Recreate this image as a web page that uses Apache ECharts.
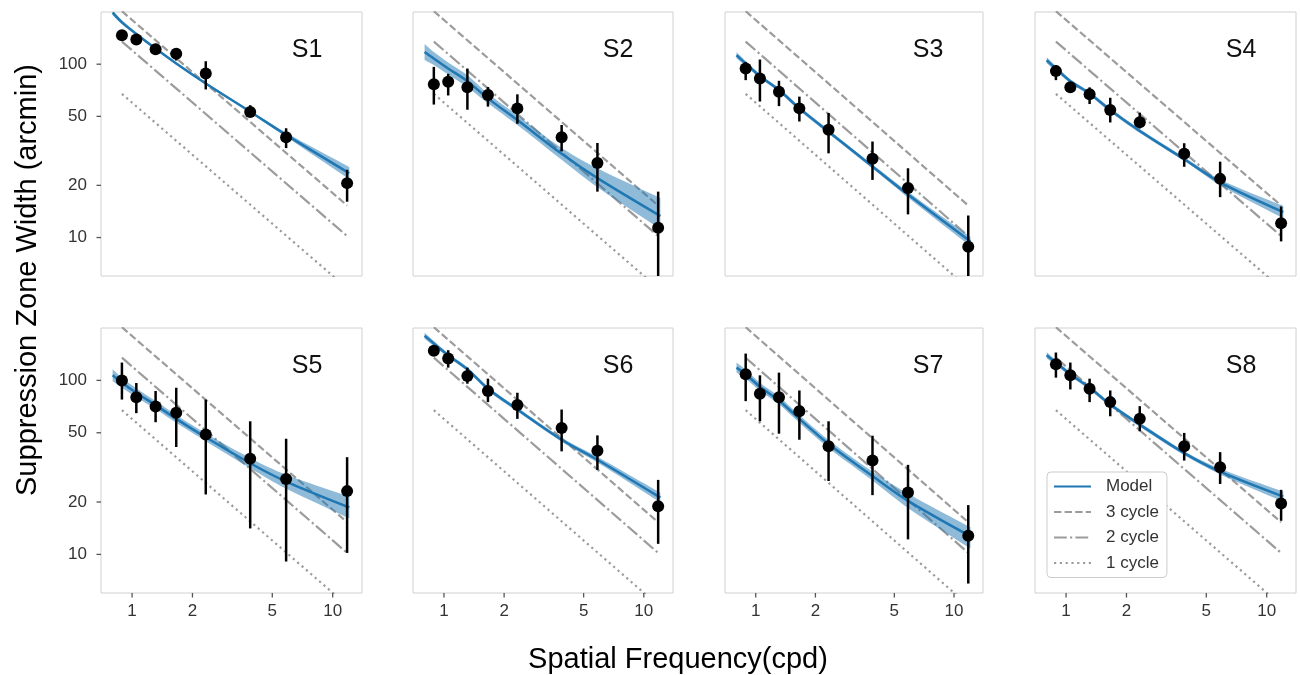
<!DOCTYPE html>
<html><head><meta charset="utf-8">
<script src="https://cdn.jsdelivr.net/npm/echarts@6/dist/echarts.min.js"></script>
<style>html,body{margin:0;padding:0;background:#fff}#c{width:1300px;height:675px}</style>
</head><body><div id="c"></div>
<script>
// ---------- data ----------
const panelNames = ['S1','S2','S3','S4','S5','S6','S7','S8'];
const freqs = [0.89, 1.05, 1.31, 1.66, 2.33, 3.88, 5.86, 11.8];
const meanValues = [
  [146.8, 138.7, 122.0, 115.0, 88.4, 53.0, 37.9, 20.6],
  [76.7, 79.1, 73.5, 66.4, 55.6, 37.9, 26.9, 11.4],
  [94.4, 82.7, 69.3, 55.6, 41.8, 28.5, 19.3, 8.84],
  [91.2, 73.5, 67.0, 54.4, 46.3, 30.4, 21.8, 12.1],
  [100.0, 80.1, 70.7, 65.1, 48.8, 35.4, 27.1, 23.1],
  [147.9, 133.5, 106.0, 86.9, 72.1, 53.3, 39.4, 18.9],
  [108.3, 83.8, 80.1, 66.5, 41.8, 34.6, 22.7, 12.8],
  [123.7, 106.9, 89.5, 75.0, 60.1, 41.8, 31.7, 19.6]
];
const errLow = [
  [138, 130, 113, 105, 71.5, 49.8, 32.8, 16.1],
  [58.5, 66, 54.6, 56.9, 45.3, 31.4, 18.4, 5],
  [80.9, 60.9, 57.3, 46.7, 30.6, 21.5, 13.6, 5],
  [80.9, 69.3, 58.9, 46.1, 42.6, 25.6, 17.1, 9.5],
  [77.6, 64.8, 57.5, 41.4, 22.1, 14.1, 9.1, 10.2],
  [138.3, 118.4, 95.7, 75.0, 60.1, 39.1, 30.6, 11.5],
  [76.0, 58.2, 49.4, 45.6, 26.4, 21.9, 12.2, 6.8],
  [103.7, 88.7, 75.0, 62.2, 51.0, 34.6, 25.4, 15.6]
];
const errHigh = [
  [157, 147, 131, 124, 104, 58, 42.7, 24.6],
  [96.5, 88, 94.4, 73.8, 67, 44.6, 35.1, 18.4],
  [103, 106.4, 80.2, 65, 52.3, 35.8, 25.1, 13.4],
  [98.7, 76.1, 73.5, 64, 52.5, 35, 27.4, 15.1],
  [126.6, 96.6, 86.9, 90.7, 77.6, 58.2, 46.2, 36.2],
  [158.1, 149.1, 118.4, 102.3, 84.9, 68.0, 48.3, 26.8],
  [142.6, 106.9, 110.8, 87.5, 58.2, 48.1, 32.7, 19.2],
  [144.6, 126.6, 102.3, 87.5, 71.1, 49.9, 38.7, 23.5]
];
const modelFreqs = [0.8, 0.89, 1.05, 1.31, 1.66, 2.33, 3.88, 5.86, 12.1];
const modelValues = [
  [198.2, 174.3, 149.4, 123.0, 100.9, 77.4, 53.2, 39.1, 23.5],
  [117.7, 107.8, 94.4, 79.8, 63.5, 47.6, 30.4, 22.0, 13.3],
  [112.6, 100.9, 85.3, 70.9, 55.6, 40.8, 25.7, 17.7, 9.5],
  [105.4, 94.4, 79.8, 67.8, 54.4, 41.2, 28.3, 20.8, 14.0],
  [106.9, 97.0, 84.9, 72.1, 60.1, 47.1, 33.4, 26.2, 18.6],
  [180.5, 163.0, 139.5, 115.8, 89.6, 68.0, 45.6, 35.0, 21.2],
  [118.4, 108.4, 91.9, 76.7, 60.1, 43.1, 28.2, 20.3, 12.7],
  [139.5, 126.6, 108.4, 90.7, 72.7, 55.7, 38.2, 29.9, 21.5]
];
const bandHigh = [
  [205, 179, 152.4, 125, 102.2, 78.4, 53.9, 40.2, 25.5],
  [130.9, 117.5, 102.2, 86.4, 67.8, 50.8, 32.9, 25.1, 16.9],
  [117.1, 104.3, 87.6, 72.8, 57.1, 41.9, 26.4, 18.4, 10.1],
  [109.6, 97.6, 82.0, 69.6, 55.9, 42.3, 29.1, 21.6, 15.2],
  [115.8, 103.6, 90.1, 76.0, 63.3, 49.6, 35.7, 28.7, 21.5],
  [187.7, 168.5, 143.3, 118.9, 92.0, 69.8, 46.8, 36.4, 22.6],
  [126.5, 115.0, 96.9, 80.8, 63.3, 45.4, 29.9, 22.3, 14.3],
  [145.1, 130.9, 111.3, 93.1, 74.7, 57.2, 39.2, 31.1, 23.0]
];
const bandLow = [
  [191.7, 169.7, 146.5, 121.1, 99.6, 76.4, 52.5, 38.1, 21.7],
  [105.8, 98.9, 87.2, 73.7, 59.5, 44.6, 28.1, 19.5, 11.2],
  [108.3, 97.6, 83.1, 69.0, 54.1, 39.7, 25.0, 17.0, 8.9],
  [101.3, 91.3, 77.7, 66.0, 53.0, 40.1, 27.6, 20.0, 12.9],
  [98.7, 90.8, 80.0, 68.4, 57.0, 44.7, 31.3, 23.9, 16.1],
  [173.6, 157.6, 135.8, 112.8, 87.2, 66.2, 44.4, 33.7, 19.9],
  [110.9, 102.2, 87.2, 72.8, 57.0, 40.9, 26.6, 18.5, 10.8],
  [134.1, 122.4, 105.5, 88.3, 70.8, 54.2, 37.2, 28.8, 20.1]
];
const cycleX = [0.89, 11.8];
const cycle3 = [202, 15.3];
const cycle2 = [135, 10.2];
const cycle1 = [67.4, 5.1];
const xTickValues = [1, 2, 5, 10];
const yTickValues = [10, 20, 50, 100];
const X_MIN = 0.7, X_MAX = 14, Y_MIN = 6, Y_MAX = 200;

// ---------- layout ----------
const lefts = [101, 413, 725, 1035];
const widths = [261, 260, 258, 261];
const tops = [12, 328];
const heights = [264, 265];
const FONT = '"Liberation Sans", Arial, Helvetica, sans-serif';
const GRAY = '#9c9c9c';
const BLUE = '#1f77b4';

const grids = [], xAxes = [], yAxes = [], series = [], graphics = [];

panelNames.forEach((name, i) => {
  const row = i < 4 ? 0 : 1, col = i % 4;
  grids.push({left: lefts[col], top: tops[row], width: widths[col], height: heights[row],
    show: true, borderColor: '#d0d0d0', borderWidth: 1, backgroundColor: 'rgba(0,0,0,0)'});
  xAxes.push({type: 'log', logBase: 10, gridIndex: i, min: X_MIN, max: X_MAX,
    axisLine: {show: false}, axisTick: {show: false}, axisLabel: {show: false},
    splitLine: {show: false}, minorTick: {show: false}});
  yAxes.push({type: 'log', logBase: 10, gridIndex: i, min: Y_MIN, max: Y_MAX,
    axisLine: {show: false}, axisTick: {show: false}, axisLabel: {show: false},
    splitLine: {show: false}, minorTick: {show: false}});

  const base = {xAxisIndex: i, yAxisIndex: i, animation: false, silent: true};
  series.push(Object.assign({type: 'line', name: '3 cycle', symbol: 'none', z: 1, clip: true,
    data: cycleX.map((x, k) => [x, cycle3[k]]), itemStyle: {color: GRAY},
    lineStyle: {color: GRAY, width: 2.2, type: [7.4, 3.2]}}, base));
  series.push(Object.assign({type: 'line', name: '2 cycle', symbol: 'none', z: 1, clip: true,
    data: cycleX.map((x, k) => [x, cycle2[k]]), itemStyle: {color: GRAY},
    lineStyle: {color: GRAY, width: 2.2, type: [12.8, 3.2, 2.2, 3.2]}}, base));
  series.push(Object.assign({type: 'line', name: '1 cycle', symbol: 'none', z: 1, clip: true,
    data: cycleX.map((x, k) => [x, cycle1[k]]), itemStyle: {color: GRAY},
    lineStyle: {color: GRAY, width: 2.2, type: [2.2, 3.6]}}, base));

  // confidence band (polygon through the read upper and lower edges)
  series.push(Object.assign({type: 'custom', z: 2, clip: true,
    data: [[modelFreqs[0], modelValues[i][0]]],
    renderItem: (params, api) => {
      const n = modelFreqs.length;
      const up = modelFreqs.map((x, k) => api.coord([x, bandHigh[i][k]]));
      const lo = modelFreqs.map((x, k) => api.coord([x, bandLow[i][k]])).reverse();
      // corner points doubled so the smoothing keeps the end caps straight
      const pts = [up[0]].concat(up, [up[n - 1]], [lo[0]], lo, [lo[n - 1]]);
      return {type: 'polygon', shape: {points: pts, smooth: 0.3}, style: {fill: 'rgba(31,119,180,0.5)'}};
    }}, base));

  // model line
  series.push(Object.assign({type: 'line', name: 'Model', symbol: 'none', z: 3, smooth: 0.3,
    data: modelFreqs.map((x, k) => [x, modelValues[i][k]]), itemStyle: {color: BLUE},
    lineStyle: {color: BLUE, width: 2.5}}, base));

  // error bars
  series.push(Object.assign({type: 'custom', z: 4, clip: true,
    data: freqs.map((x, k) => [x, errLow[i][k], errHigh[i][k]]),
    encode: {x: 0, y: [1, 2]},
    renderItem: (params, api) => {
      const a = api.coord([api.value(0), api.value(1)]);
      const b = api.coord([api.value(0), api.value(2)]);
      return {type: 'line', shape: {x1: a[0], y1: a[1], x2: b[0], y2: b[1]},
        style: {stroke: '#000', lineWidth: 2.5}};
    }}, base));

  // means
  series.push(Object.assign({type: 'scatter', z: 5, symbol: 'circle', symbolSize: 12,
    data: freqs.map((x, k) => [x, meanValues[i][k]]),
    itemStyle: {color: '#000', opacity: 1}}, base));

  // y ticks (left column)
  if (col === 0) {
    series.push(Object.assign({type: 'custom', z: 5, clip: false,
      data: yTickValues.map(v => [X_MIN, v]),
      renderItem: (params, api) => {
        const p = api.coord([api.value(0), api.value(1)]);
        return {type: 'group', children: [
          {type: 'line', shape: {x1: p[0] - 4.5, y1: p[1], x2: p[0], y2: p[1]}, style: {stroke: '#555', lineWidth: 1.3}},
          {type: 'text', x: p[0] - 14, y: p[1], style: {text: String(api.value(1)), textAlign: 'right',
            textVerticalAlign: 'middle', font: '17px ' + FONT, fill: '#333'}}
        ]};
      }}, base));
  }
  // x ticks (bottom row)
  if (row === 1) {
    series.push(Object.assign({type: 'custom', z: 5, clip: false,
      data: xTickValues.map(v => [v, Y_MIN]),
      renderItem: (params, api) => {
        const p = api.coord([api.value(0), api.value(1)]);
        return {type: 'group', children: [
          {type: 'line', shape: {x1: p[0], y1: p[1], x2: p[0], y2: p[1] + 4.5}, style: {stroke: '#555', lineWidth: 1.3}},
          {type: 'text', x: p[0], y: p[1] + 10, style: {text: String(api.value(0)), textAlign: 'center',
            textVerticalAlign: 'top', font: '17px ' + FONT, fill: '#333'}}
        ]};
      }}, base));
  }

  graphics.push({type: 'text', x: lefts[col] + widths[col] - 55, y: tops[row] + 38, z: 10,
    style: {text: name, font: '25px ' + FONT, textAlign: 'center', textVerticalAlign: 'middle', fill: '#111'}});
});

graphics.push({type: 'text', x: 28, y: 280, rotation: Math.PI / 2,
  style: {text: 'Suppression Zone Width (arcmin)', font: '29px ' + FONT, textAlign: 'center', textVerticalAlign: 'middle', fill: '#000'}});
graphics.push({type: 'text', x: 678, y: 660,
  style: {text: 'Spatial Frequency(cpd)', font: '29px ' + FONT, textAlign: 'center', textVerticalAlign: 'middle', fill: '#000'}});

const chart = echarts.init(document.getElementById('c'), null, {renderer: 'canvas'});
chart.setOption({
  animation: false,
  backgroundColor: '#fff',
  grid: grids, xAxis: xAxes, yAxis: yAxes, series: series,
  graphic: graphics,
  legend: {
    data: ['Model', '3 cycle', '2 cycle', '1 cycle'],
    orient: 'vertical', left: 1047, top: 472, z: 20,
    itemWidth: 37, itemHeight: 14, itemGap: 8.5,
    padding: [6, 8, 6, 6],
    borderColor: '#cccccc', borderWidth: 1, borderRadius: 4, backgroundColor: '#fff',
    selectedMode: false,
    itemStyle: {opacity: 0},
    textStyle: {fontSize: 17, color: '#333', fontFamily: FONT, padding: [0, 0, 0, 10]}
  }
});
</script></body></html>
